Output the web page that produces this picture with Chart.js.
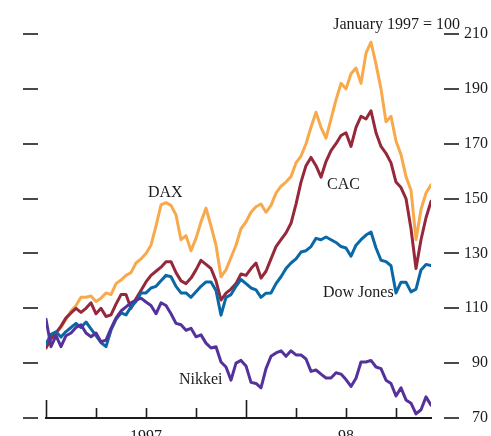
<!DOCTYPE html>
<html><head><meta charset="utf-8">
<script src="https://cdn.jsdelivr.net/npm/chart.js@4"></script>
<style>html,body{margin:0;padding:0;background:#fff;overflow:hidden;}</style>
</head><body>
<canvas id="c" width="491" height="436"></canvas>
<script>
// Indices, January 1997 = 100; samples every STEP months starting Jan 1997
const STEP = 0.3;
const dax = [97,99,101,103,106,109,111,114,114,114.5, 112.5,113.7,115.6,115,119,120.3,122,123,126.5,128,
  130,133,140,147.7,148.5,147.5,144,135,136.5,131, 135.5,141.5,146.5,140,133,121.5,124,128.5,133,139,
  141.5,145,147,148,145,147.5,152,154.5,156,158, 163,165.5,170,176,181.5,176,172,179,186,192,
  190,195.5,197.6,192,203,207,199,190,178,180, 171,166,158,153,135,146,152,155];
const cac = [95.5,99,101,103.5,106.5,108.3,110,108.5,110,112, 108,110,107,107.6,111.5,115,115,110,113.5,116.5,
  119.6,122,123.5,125,127,127,123,120,119,121, 124,127.5,126,124.5,120,113,115.5,117,119,122.5,
  122,124.5,126.5,121,123.5,128,132.5,135,137.5,141, 148,156,162,165,162,157.8,163.5,167.5,170,173,
  174,169,176,180,179,182,174,169,166.5,163, 156,154,150,139,124.5,135,143,149];
const dow = [97,100.5,101.4,99.5,101.5,103,104.5,103,105,102.5, 100,97.5,96,102,106,108.3,107.6,110.5,112.5,115.6,
  115.6,117.4,118,120,122,121.5,118,115.6,115.6,114, 116,118,119.6,119.6,116.5,107.5,114,115,118,120.5,
  119,117.4,116.7,114,115.5,115.6,119,121.5,124.5,126.5, 128,130.5,131,132.5,135.5,135,136,135,134,132.5,
  132,129,133,135,136.7,137.8,132,127.5,127,125.5, 115.6,119.5,119.5,116,117,124,126,125.6];
const nikkei = [106,96,100,96,100,101,103,104,101,99.6, 101,97.8,98.4,102.7,106.4,109,110.5,112,113,113.7,
  112.3,111,108,112,111,108,104.5,104,102,102.7, 99.6,100.3,97.3,95.5,96,90.4,88.6,83.8,90,91,
  89,83,82.6,81,88,92.5,93.7,94.5,92.5,94.5, 93,93,91.5,87,87.5,86,84.6,84.6,86.5,86,
  84,81.5,84.5,90.4,90.4,91,88.6,88,83.8,82.6, 78,81,76.6,75.4,71.5,73,77.7,74.7];
const yTicks = [70,90,110,130,150,170,190,210];
const xLabelMonths = [6,18];
const xLabelTexts = ['1997','98'];
const quarterTicks = [0,3,6,9,12,15,18,21];
const yearTicks = [0,12];
const seriesNames = ['Nikkei','Dow Jones','CAC','DAX'];

const months = dax.map((_, i) => +(i * STEP).toFixed(2));
const pts = arr => arr.map((v, i) => ({x: months[i], y: v}));

const FONT = '"Liberation Serif", "Times New Roman", serif';
const INK = '#1c1c1c';

const annot = {
  id: 'annot',
  afterDraw(chart) {
    const ctx = chart.ctx, xs = chart.scales.x, ys = chart.scales.y;
    ctx.save();
    ctx.strokeStyle = INK; ctx.lineWidth = 1.6;
    yTicks.forEach(v => {
      const y = Math.round(ys.getPixelForValue(v));
      ctx.beginPath(); ctx.moveTo(23, y); ctx.lineTo(38, y); ctx.stroke();
      ctx.beginPath(); ctx.moveTo(444, y); ctx.lineTo(459, y); ctx.stroke();
    });
    const base = chart.chartArea.bottom;
    quarterTicks.forEach(m => {
      const x = Math.round(xs.getPixelForValue(m)) + 0.5;
      const h = yearTicks.includes(m) ? 18 : 10;
      ctx.beginPath(); ctx.moveTo(x, base); ctx.lineTo(x, base - h); ctx.stroke();
    });
    ctx.fillStyle = INK;
    ctx.font = '16px ' + FONT;
    ctx.textBaseline = 'alphabetic';
    ctx.textAlign = 'right';
    ctx.fillText('January 1997 = 100', 460, 29);
    ctx.textAlign = 'left';
    ctx.fillText(seriesNames[3], 148, 197);
    ctx.fillText(seriesNames[2], 327, 189);
    ctx.fillText(seriesNames[1], 323, 297);
    ctx.fillText(seriesNames[0], 179, 384);
    ctx.restore();
  }
};

const ds = (label, arr, color) => ({
  label, data: pts(arr), borderColor: color, backgroundColor: color,
  borderWidth: 3, pointRadius: 0, tension: 0, fill: false,
  borderJoinStyle: 'round', borderCapStyle: 'round'
});

new Chart(document.getElementById('c'), {
  type: 'line',
  data: {
    datasets: [
      ds(seriesNames[0], nikkei, '#55329B'),
      ds(seriesNames[1], dow, '#0A68A6'),
      ds(seriesNames[2], cac, '#96283C'),
      ds(seriesNames[3], dax, '#F8A94C')
    ]
  },
  options: {
    responsive: false, animation: false, devicePixelRatio: 1,
    layout: {padding: {left: 46, right: 3, top: 34, bottom: 0}},
    plugins: {legend: {display: false}, tooltip: {enabled: false}},
    scales: {
      x: {
        type: 'linear', position: 'bottom', min: 0, max: 23.1,
        grid: {display: false},
        border: {display: true, color: INK, width: 2},
        afterBuildTicks: s => { s.ticks = xLabelMonths.map(v => ({value: v})); },
        afterFit: s => { s.height = 18; },
        ticks: {
          padding: 1, maxRotation: 0, autoSkip: false, color: INK,
          font: {family: FONT, size: 16},
          callback: v => xLabelTexts[xLabelMonths.indexOf(v)] ?? ''
        }
      },
      y: {
        type: 'linear', position: 'right', min: 70, max: 210,
        grid: {display: false},
        border: {display: false},
        afterBuildTicks: s => { s.ticks = yTicks.map(v => ({value: v})); },
        afterFit: s => { s.width = 57; },
        ticks: {
          crossAlign: 'far', padding: 0, color: INK,
          font: {family: FONT, size: 16}
        }
      }
    }
  },
  plugins: [annot]
});
</script>
</body></html>
